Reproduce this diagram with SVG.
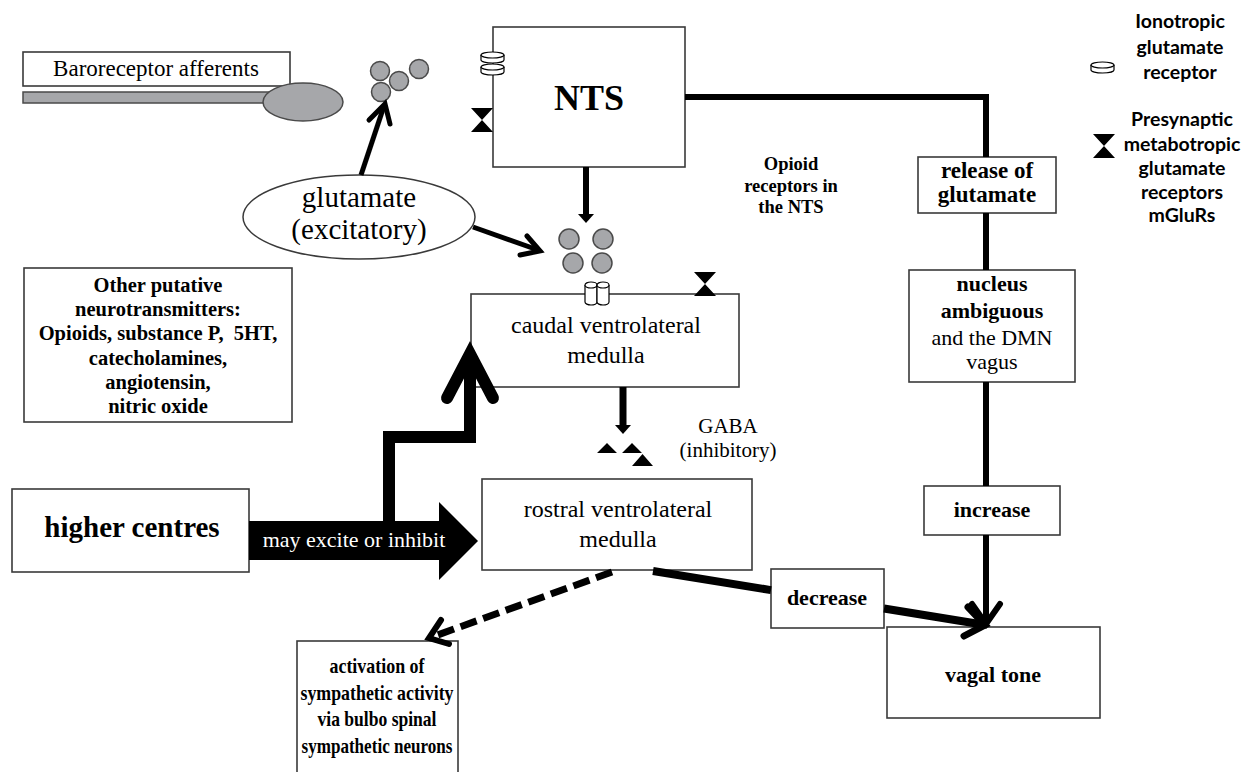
<svg xmlns="http://www.w3.org/2000/svg" xmlns:xlink="http://www.w3.org/1999/xlink" width="1245" height="772" viewBox="0 0 1245 772">
<style>
.box{fill:#fff;stroke:#3a3a3a;stroke-width:1.6}
.t{font-family:"Liberation Serif","Times New Roman",serif;fill:#000;text-anchor:middle}
.b{font-weight:bold}
.ves{fill:#a6a7aa;stroke:#4a4a4a;stroke-width:1.5}
.lg{font-family:Lato,"Open Sans",sans-serif;font-weight:bold;font-size:19.5px;fill:#000;text-anchor:middle}
.ln{fill:none;stroke:#000;stroke-linejoin:miter}
.cyl{fill:#fff;stroke:#000;stroke-width:1.2}
</style>
<defs>
<g id="cylH"><path class="cyl" d="M0,3 A11.5,3 0 0 1 23,3 V8 A11.5,3 0 0 1 0,8 Z"/><path class="cyl" fill="none" d="M0,3 A11.5,3 0 0 0 23,3"/></g>
<g id="cylV"><path class="cyl" d="M0,3 A6,3 0 0 1 12,3 V20 A6,3 0 0 1 0,20 Z"/><path class="cyl" fill="none" d="M0,3 A6,3 0 0 0 12,3"/></g>
<path id="bow" d="M0,0 H22 L11,12 Z M0,24 H22 L11,12 Z" fill="#000"/>
</defs>
<rect width="1245" height="772" fill="#fff"/>

<g id="baroreceptor">
<rect x="23" y="92" width="252" height="11" fill="#a6a7aa" stroke="#4a4a4a" stroke-width="1.5"/>
<rect class="box" x="23" y="52" width="267" height="34"/>
<text class="t" x="156" y="76" font-size="23">Baroreceptor afferents</text>
<ellipse cx="303" cy="102" rx="40" ry="19" class="ves"/>
</g>
<g id="baro-vesicles">
<circle class="ves" cx="380" cy="71" r="9.5"/>
<circle class="ves" cx="399" cy="81" r="9.5"/>
<circle class="ves" cx="419" cy="69" r="9.5"/>
<circle class="ves" cx="381" cy="92" r="9.5"/>
</g>
<g id="glutamate">
<ellipse cx="359" cy="217" rx="116" ry="42" fill="#fff" stroke="#3a3a3a" stroke-width="1.5"/>
<text class="t" x="359" y="207" font-size="29">glutamate</text>
<text class="t" x="359" y="239" font-size="29">(excitatory)</text>
</g>
<g id="nts">
<rect class="box" x="493" y="27" width="192" height="140"/>
<text class="t b" x="589" y="110" font-size="36">NTS</text>
<use xlink:href="#cylH" x="481" y="52"/>
<use xlink:href="#cylH" x="481" y="64"/>
<use xlink:href="#bow" x="471" y="108"/>
</g>
<g id="opioid-label">
<text class="t b" x="791" y="170" font-size="18.5">Opioid</text>
<text class="t b" x="791" y="192" font-size="18.5">receptors in</text>
<text class="t b" x="791" y="213" font-size="18.5">the NTS</text>
</g>
<g id="release">
<rect class="box" x="918" y="157" width="138" height="56"/>
<text class="t b" x="987" y="178" font-size="23">release of</text>
<text class="t b" x="987" y="202" font-size="23">glutamate</text>
</g>
<g id="nucleus">
<rect class="box" x="909" y="270" width="166" height="112"/>
<text class="t b" x="992" y="291" font-size="22">nucleus</text>
<text class="t b" x="992" y="318" font-size="22">ambiguous</text>
<text class="t" x="992" y="345" font-size="22">and the DMN</text>
<text class="t" x="992" y="369" font-size="22">vagus</text>
</g>
<g id="increase">
<rect class="box" x="924" y="486" width="136" height="49"/>
<text class="t b" x="992" y="517" font-size="22">increase</text>
</g>
<g id="other">
<rect class="box" x="24" y="268" width="268" height="154"/>
<text class="t b" x="158" y="292" font-size="20.5">Other putative</text>
<text class="t b" x="158" y="316" font-size="20.5">neurotransmitters:</text>
<text class="t b" x="158" y="340" font-size="20.5" xml:space="preserve">Opioids, substance P,  5HT,</text>
<text class="t b" x="158" y="365" font-size="20.5">catecholamines,</text>
<text class="t b" x="158" y="389" font-size="20.5">angiotensin,</text>
<text class="t b" x="158" y="413" font-size="20.5">nitric oxide</text>
</g>
<g id="cvlm-vesicles">
<circle class="ves" cx="569" cy="239" r="10"/>
<circle class="ves" cx="603" cy="239" r="10"/>
<circle class="ves" cx="573" cy="263" r="10"/>
<circle class="ves" cx="602" cy="263" r="10"/>
</g>
<g id="cvlm">
<rect class="box" x="471" y="294" width="268" height="93"/>
<text class="t" x="606" y="333" font-size="24">caudal ventrolateral</text>
<text class="t" x="606" y="363" font-size="24">medulla</text>
<use xlink:href="#cylV" x="585" y="282"/>
<use xlink:href="#cylV" x="597" y="282"/>
<use xlink:href="#bow" x="694" y="272"/>
</g>
<g id="gaba">
<path d="M597,453 L607,443 L617,453 Z M622,453 L632,443 L642,453 Z M632,466 L642.5,454 L653,466 Z" fill="#000"/>
<text class="t" x="728" y="433" font-size="21">GABA</text>
<text class="t" x="728" y="457" font-size="21">(inhibitory)</text>
</g>
<g id="rvlm">
<rect class="box" x="482" y="479" width="270" height="91"/>
<text class="t" x="618" y="517" font-size="24">rostral ventrolateral</text>
<text class="t" x="618" y="547" font-size="24">medulla</text>
</g>
<g id="higher">
<rect class="box" x="12" y="489" width="237" height="83"/>
<text class="t b" x="132" y="537" font-size="29">higher centres</text>
</g>
<g id="activation">
<rect class="box" x="297" y="641" width="161" height="140"/>
<text class="t b" x="377" y="673" font-size="22" textLength="95" lengthAdjust="spacingAndGlyphs">activation of</text>
<text class="t b" x="377" y="700" font-size="22" textLength="153" lengthAdjust="spacingAndGlyphs">sympathetic activity</text>
<text class="t b" x="377" y="726" font-size="22" textLength="119" lengthAdjust="spacingAndGlyphs">via bulbo spinal</text>
<text class="t b" x="377" y="753" font-size="22" textLength="151" lengthAdjust="spacingAndGlyphs">sympathetic neurons</text>
</g>
<g id="decrease">
<rect class="box" x="771" y="569" width="113" height="59"/>
<text class="t b" x="827" y="605" font-size="22">decrease</text>
</g>
<g id="vagal">
<rect class="box" x="887" y="627" width="213" height="91"/>
<text class="t b" x="993" y="682" font-size="22">vagal tone</text>
</g>
<g id="legend">
<use xlink:href="#cylH" x="1091" y="62"/>
<text class="lg" x="1180" y="28">Ionotropic</text>
<text class="lg" x="1180" y="54">glutamate</text>
<text class="lg" x="1180" y="79">receptor</text>
<use xlink:href="#bow" x="1093" y="134"/>
<text class="lg" x="1182" y="126">Presynaptic</text>
<text class="lg" x="1182" y="151">metabotropic</text>
<text class="lg" x="1182" y="175">glutamate</text>
<text class="lg" x="1182" y="199">receptors</text>
<text class="lg" x="1182" y="222">mGluRs</text>
</g>

<g id="connectors">
<path class="ln" stroke-width="6" d="M685,97 H986 V157"/>
<path class="ln" stroke-width="6" d="M986,213 V270 M986,382 V486 M986,535 V623"/>
<path class="ln" stroke-width="6" stroke-linecap="round" d="M972,604 L986,624 L1000,604"/>
<path class="ln" stroke-width="8" d="M653,571 L771,590.1 M884,608.5 L984,624.7"/>
<path class="ln" stroke-width="7" stroke-linecap="round" d="M964,636 L985,625 L968,607"/>
<path class="ln" stroke-width="7" stroke-dasharray="17 7" d="M612,572 L432,637"/>
<path class="ln" stroke-width="6" stroke-linecap="round" d="M449,644 L429,638 L441,620"/>
<path class="ln" stroke-width="6" d="M586,167 V215"/>
<path d="M578,214 H594 L586,223 Z" fill="#000"/>
<path class="ln" stroke-width="7" d="M623,387 V426"/>
<path d="M615,425 H631 L623,434 Z" fill="#000"/>
<path class="ln" stroke-width="5" d="M361,175 L384,106"/>
<path class="ln" stroke-width="5" stroke-linecap="round" d="M369,120 L385,104 L390,124"/>
<path class="ln" stroke-width="5" d="M473,227 L538,250"/>
<path class="ln" stroke-width="5" stroke-linecap="round" d="M520,255 L540,251 L527,236"/>
<path d="M249,521 H439 V502 L478,541 L439,580 V560 H249 Z" fill="#000"/>
<text class="t" x="354" y="547" font-size="22" style="fill:#fff">may excite or inhibit</text>
<path class="ln" stroke-width="12" stroke-linejoin="round" d="M389,522 V437 H470 V360"/>
<path class="ln" stroke-width="12" stroke-linejoin="round" stroke-linecap="round" d="M447,398 L470,354 L493,398"/>
</g>
</svg>
